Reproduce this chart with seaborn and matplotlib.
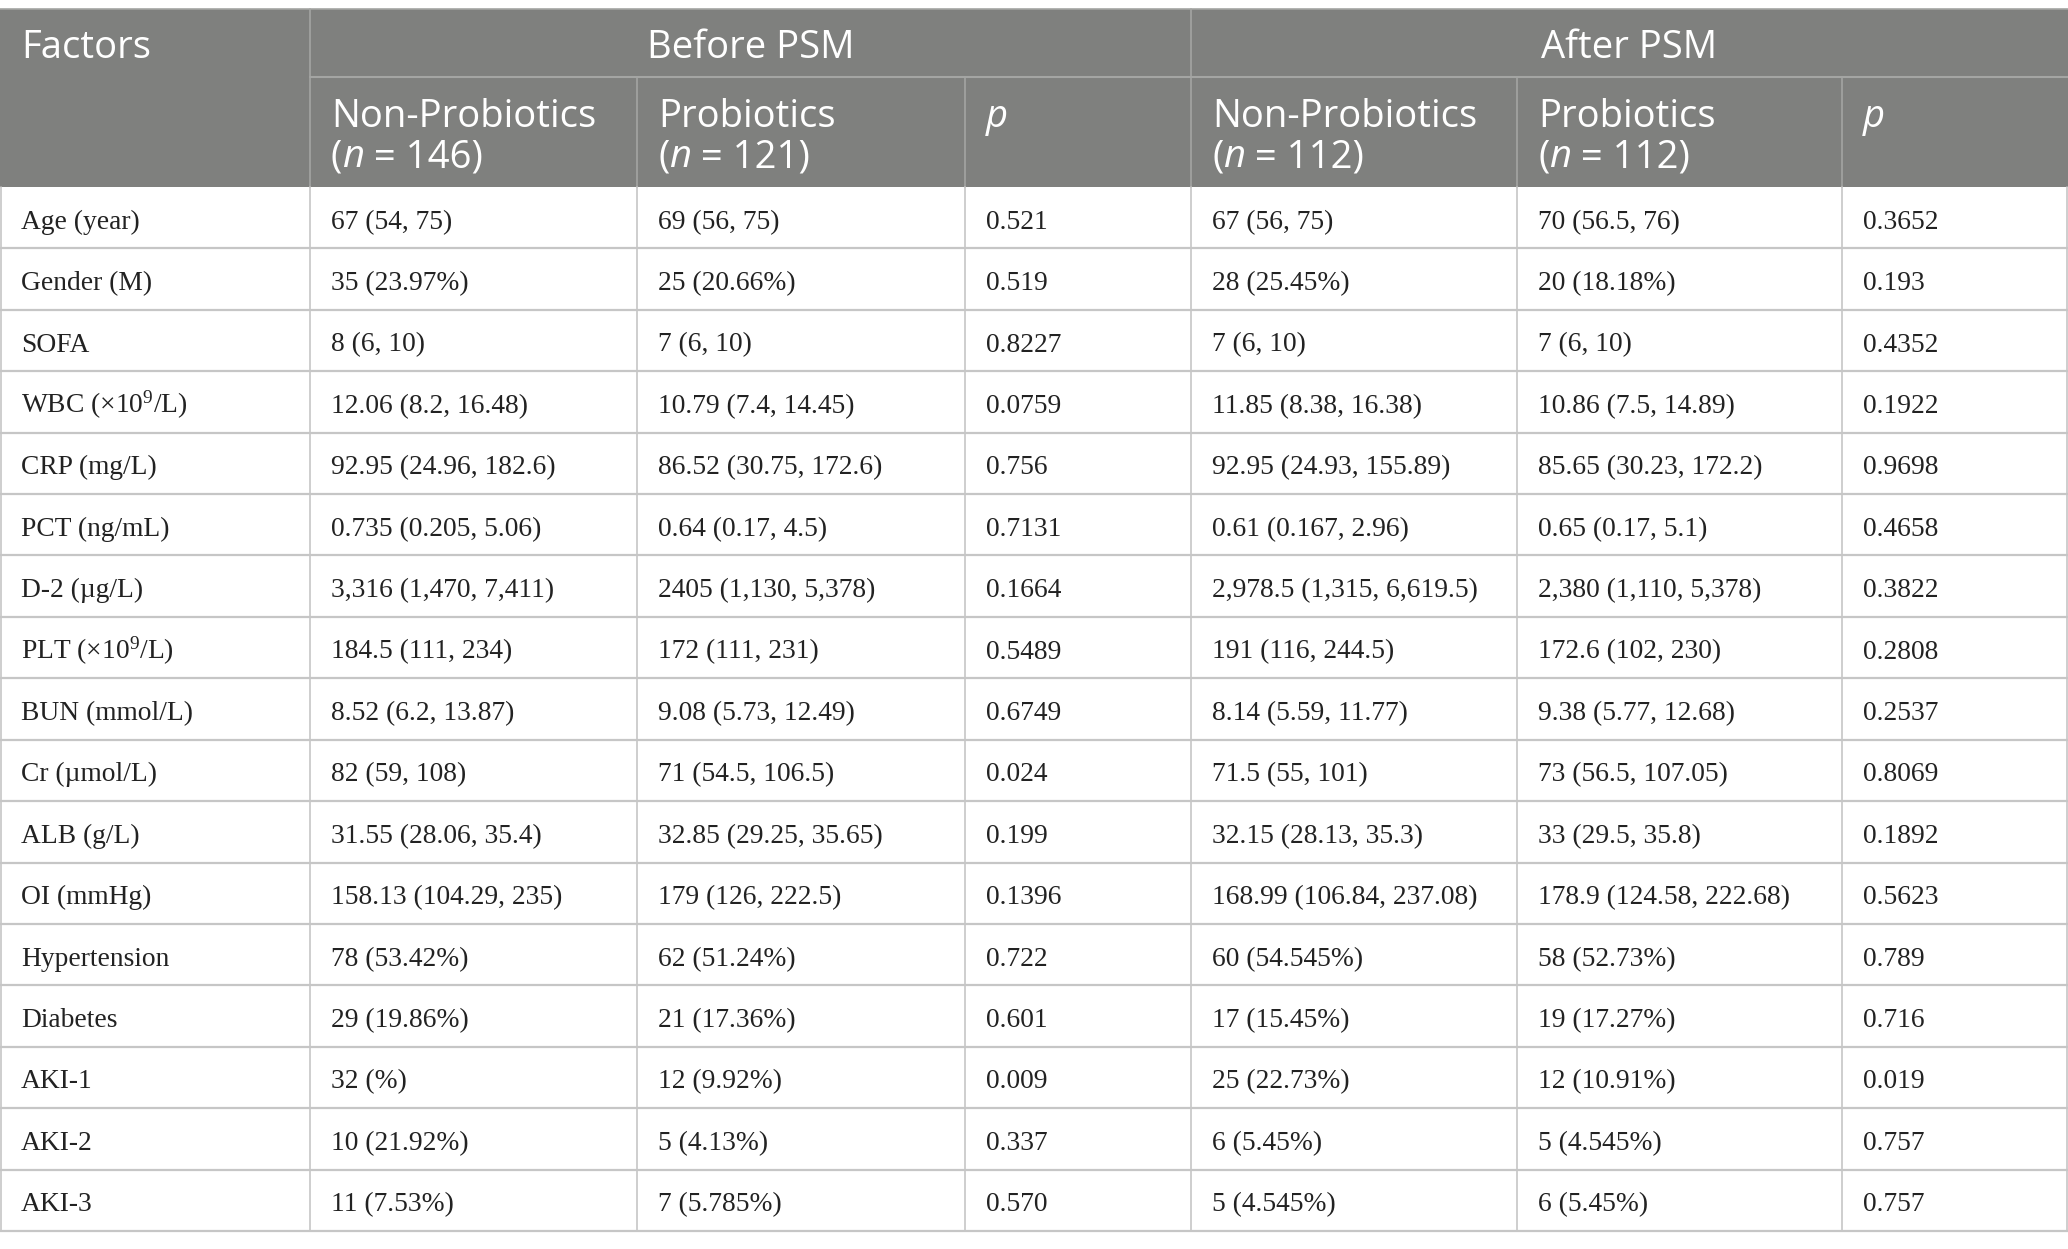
"""
PSM 前后基线特征表 — 单文件脚本
"""
import matplotlib.pyplot as plt
import seaborn as sns

# ---------------------------------------------------------------------------
# 数据
# ---------------------------------------------------------------------------
factors = [
    "Age (year)", "Gender (M)", "SOFA", "WBC (×10$^{9}$/L)", "CRP (mg/L)",
    "PCT (ng/mL)", "D-2 (µg/L)", "PLT (×10$^{9}$/L)", "BUN (mmol/L)",
    "Cr (µmol/L)", "ALB (g/L)", "OI (mmHg)", "Hypertension", "Diabetes",
    "AKI-1", "AKI-2", "AKI-3",
]
before_non = [
    "67 (54, 75)", "35 (23.97%)", "8 (6, 10)", "12.06 (8.2, 16.48)",
    "92.95 (24.96, 182.6)", "0.735 (0.205, 5.06)", "3,316 (1,470, 7,411)",
    "184.5 (111, 234)", "8.52 (6.2, 13.87)", "82 (59, 108)",
    "31.55 (28.06, 35.4)", "158.13 (104.29, 235)", "78 (53.42%)",
    "29 (19.86%)", "32 (%)", "10 (21.92%)", "11 (7.53%)",
]
before_pro = [
    "69 (56, 75)", "25 (20.66%)", "7 (6, 10)", "10.79 (7.4, 14.45)",
    "86.52 (30.75, 172.6)", "0.64 (0.17, 4.5)", "2405 (1,130, 5,378)",
    "172 (111, 231)", "9.08 (5.73, 12.49)", "71 (54.5, 106.5)",
    "32.85 (29.25, 35.65)", "179 (126, 222.5)", "62 (51.24%)",
    "21 (17.36%)", "12 (9.92%)", "5 (4.13%)", "7 (5.785%)",
]
before_p = [
    "0.521", "0.519", "0.8227", "0.0759", "0.756", "0.7131", "0.1664",
    "0.5489", "0.6749", "0.024", "0.199", "0.1396", "0.722", "0.601",
    "0.009", "0.337", "0.570",
]
after_non = [
    "67 (56, 75)", "28 (25.45%)", "7 (6, 10)", "11.85 (8.38, 16.38)",
    "92.95 (24.93, 155.89)", "0.61 (0.167, 2.96)",
    "2,978.5 (1,315, 6,619.5)", "191 (116, 244.5)", "8.14 (5.59, 11.77)",
    "71.5 (55, 101)", "32.15 (28.13, 35.3)", "168.99 (106.84, 237.08)",
    "60 (54.545%)", "17 (15.45%)", "25 (22.73%)", "6 (5.45%)",
    "5 (4.545%)",
]
after_pro = [
    "70 (56.5, 76)", "20 (18.18%)", "7 (6, 10)", "10.86 (7.5, 14.89)",
    "85.65 (30.23, 172.2)", "0.65 (0.17, 5.1)", "2,380 (1,110, 5,378)",
    "172.6 (102, 230)", "9.38 (5.77, 12.68)", "73 (56.5, 107.05)",
    "33 (29.5, 35.8)", "178.9 (124.58, 222.68)", "58 (52.73%)",
    "19 (17.27%)", "12 (10.91%)", "5 (4.545%)", "6 (5.45%)",
]
after_p = [
    "0.3652", "0.193", "0.4352", "0.1922", "0.9698", "0.4658", "0.3822",
    "0.2808", "0.2537", "0.8069", "0.1892", "0.5623", "0.789", "0.716",
    "0.019", "0.757", "0.757",
]

group_labels = ["Before PSM", "After PSM"]
sub_labels = ["Non-Probiotics", "Probiotics", "p"]
group_n = [[146, 121], [112, 112]]

# ---------------------------------------------------------------------------
# 版式（像素）
# ---------------------------------------------------------------------------
W, H = 2068, 1249
COL_X = [0, 310, 637, 965, 1191, 1517, 1842, 2068]
TOP, MID, HEAD_BOT, BOTTOM = 9, 77, 187, 1231
PAD = 21
HEAD_BG = "#7f807e"
HEAD_LINE = "#a4a5a3"
BODY_LINE = "#c6c6c6"
TEXT = "#222222"

sns.set_theme(style="white")
plt.rcParams.update({
    "mathtext.fontset": "custom",
    "mathtext.rm": "Liberation Serif",
    "mathtext.it": "Liberation Serif:italic",
})
plt.rcParams["font.family"] = ["Liberation Serif", "DejaVu Serif"]

HEAD_FONT = ["Open Sans", "DejaVu Sans"]
HEAD_SIZE = 27.5
BODY_SIZE = 19.8

fig = plt.figure(figsize=(W / 100, H / 100), dpi=100)
ax = fig.add_axes([0, 0, 1, 1])
ax.set_xlim(0, W)
ax.set_ylim(H, 0)
ax.axis("off")
renderer = fig.canvas.get_renderer()


def draw_runs(x, y, runs, **kw):
    """按顺序拼接多段文字（正体/斜体）。"""
    for txt, style in runs:
        t = ax.text(x, y, txt, ha="left", va="baseline", style=style, **kw)
        bb = t.get_window_extent(renderer=renderer)
        x += bb.width


# 表头背景与分隔线
ax.add_patch(plt.Rectangle((0, TOP), W, HEAD_BOT - TOP, color=HEAD_BG, lw=0))
ax.plot([0, W], [TOP, TOP], color=HEAD_LINE, lw=1.2)
ax.plot([COL_X[1], W], [MID, MID], color=HEAD_LINE, lw=1.5)
for i, cx in enumerate(COL_X[1:-1], start=1):
    y0 = TOP if i in (1, 4) else MID
    ax.plot([cx, cx], [y0, HEAD_BOT], color=HEAD_LINE, lw=1.2)

head_kw = dict(color="white", family=HEAD_FONT, fontsize=HEAD_SIZE)
ax.text(PAD, 58, "Factors", ha="left", va="baseline", **head_kw)
for g, label in enumerate(group_labels):
    x0, x1 = COL_X[1 + 3 * g], COL_X[4 + 3 * g]
    ax.text((x0 + x1) / 2, 58, label, ha="center", va="baseline", **head_kw)
    for s, sub in enumerate(sub_labels):
        cx = COL_X[1 + 3 * g + s] + PAD
        if sub == "p":
            draw_runs(cx, 127, [("p", "italic")], **head_kw)
        else:
            ax.text(cx, 127, sub, ha="left", va="baseline", **head_kw)
            draw_runs(cx, 167, [("(", "normal"), ("n", "italic"),
                                (f" = {group_n[g][s]})", "normal")], **head_kw)

# 表体
row_h = (BOTTOM - HEAD_BOT) / len(factors)
columns = [factors, before_non, before_pro, before_p,
           after_non, after_pro, after_p]
for r in range(len(factors)):
    yb = HEAD_BOT + (r + 0.5) * row_h + 11
    for c, col in enumerate(columns):
        ax.text(COL_X[c] + PAD, yb, col[r], ha="left", va="baseline",
                color=TEXT, fontsize=BODY_SIZE)
for r in range(1, len(factors) + 1):
    y = HEAD_BOT + r * row_h
    ax.plot([0, W], [y, y], color=BODY_LINE, lw=1.6)
for cx in COL_X:
    cx = min(max(cx, 0.8), W - 0.8)
    ax.plot([cx, cx], [HEAD_BOT, BOTTOM], color=BODY_LINE, lw=1.2)

fig.savefig("out.png", dpi=100)
